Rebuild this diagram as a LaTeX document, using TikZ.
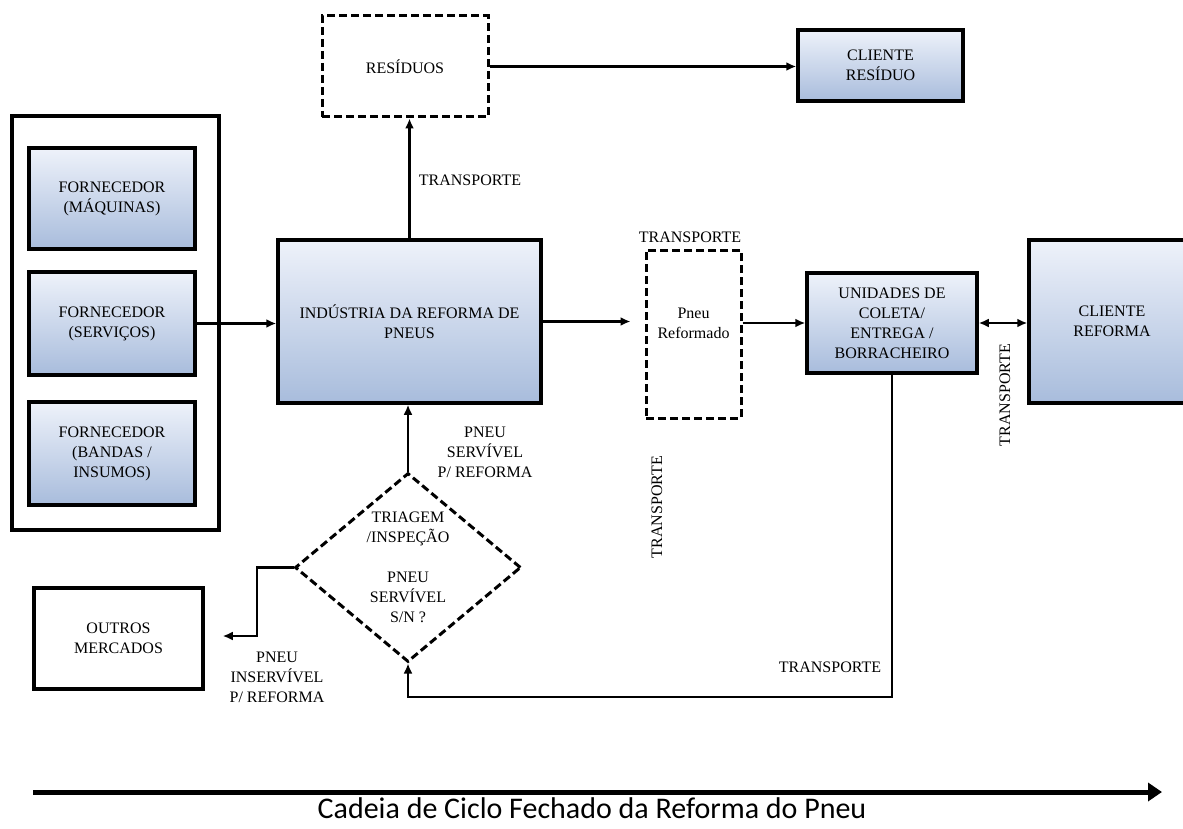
\documentclass[tikz,border=0pt]{standalone}
\usepackage{fontspec}
\setmainfont{Liberation Serif}
\newfontfamily\legenda{Carlito}
\usepackage{tikz}
\usetikzlibrary{arrows.meta,shapes.geometric}
\definecolor{azulclaro}{RGB}{238, 242, 250}
\definecolor{azulescuro}{RGB}{168, 188, 220}

\begin{document}
\begin{tikzpicture}[x=1pt, y=-1pt, font=\rmfamily\fontsize{16}{20}\selectfont,
	caixa/.style={draw, line width=3.5pt, align=center, inner sep=0pt},
	azul/.style={caixa, top color=azulclaro, bottom color=azulescuro},
	tracejada/.style={caixa, line width=3pt, dash pattern=on 8pt off 4pt},
	losango/.style={tracejada, diamond, aspect=1.2},
	rotulo/.style={align=center, inner sep=1pt},
	linha/.style={line width=2.5pt},
	seta/.style={linha, -{Latex[length=10pt,width=9pt]}}]
	\clip (0,0) rectangle (1183,829);
	\node[caixa, minimum width=207pt, minimum height=414pt] (fornecedores) at (115.5,323) {};
	\node[azul, minimum width=166pt, minimum height=101pt] (maquinas) at (112,198.5) {FORNECEDOR\\(MÁQUINAS)};
	\node[azul, minimum width=166pt, minimum height=103pt] (servicos) at (112,323.5) {FORNECEDOR\\(SERVIÇOS)};
	\node[azul, minimum width=166pt, minimum height=103pt] (bandas) at (112,453.5) {FORNECEDOR\\(BANDAS /\\INSUMOS)};
	\node[azul, minimum width=263pt, minimum height=163pt] (industria) at (409.5,321.5) {INDÚSTRIA DA REFORMA DE\\PNEUS};
	\node[tracejada, minimum width=166pt, minimum height=101pt] (residuos) at (405,66.5) {RESÍDUOS};
	\node[azul, minimum width=165pt, minimum height=71pt] (clienteresiduo) at (880.5,65.5) {CLIENTE\\RESÍDUO};
	\node[tracejada, minimum width=95pt, minimum height=168pt,
		label={[rotulo, yshift=11pt]center:{Pneu\\Reformado}}] (pneuref) at (693.5,334) {};
	\node[azul, minimum width=170pt, minimum height=100pt] (unidades) at (892,323) {UNIDADES DE\\COLETA/\\ENTREGA /\\BORRACHEIRO};
	\node[azul, minimum width=166pt, minimum height=163pt] (clientereforma) at (1112,321.5) {CLIENTE\\REFORMA};
	\node[losango, minimum width=226pt, minimum height=189pt,
		label={[rotulo]center:{TRIAGEM\\/INSPEÇÃO\\[20pt]PNEU\\SERVÍVEL\\S/N ?}}] (triagem) at (408,567.5) {};
	\node[caixa, minimum width=169pt, minimum height=101pt] (outros) at (118.5,638.5) {OUTROS\\MERCADOS};

	\coordinate (retorno) at (892,697);
	\coordinate (desvio) at (257,636);

	\draw[seta] (servicos.east) -- (servicos.east -| industria.west);
	\draw[seta] (industria.north) -- (industria.north |- residuos.south);
	\draw[seta] (residuos.east) -- (residuos.east -| clienteresiduo.west);
	\draw[seta, shorten >=14pt] (industria.east) -- (industria.east -| pneuref.west);
	\draw[seta] (pneuref.east |- unidades.west) -- (unidades.west);
	\draw[linha, {Latex[length=10pt,width=9pt]}-{Latex[length=10pt,width=9pt]}] (unidades.east) -- (unidades.east -| clientereforma.west);
	\draw[seta] (unidades.south) -- (retorno) -| (triagem.south);
	\draw[seta] (triagem.north) -- (triagem.north |- industria.south);
	\draw[seta, shorten >=18pt] (triagem.west) -| (desvio) -- (desvio -| outros.east);

	\node[rotulo] (t1) at (470,180) {TRANSPORTE};
	\node[rotulo] (t2) at (690,237) {TRANSPORTE};
	\node[rotulo] (t3) at (657,507) [rotate=90] {TRANSPORTE};
	\node[rotulo] (t4) at (1005,395) [rotate=90] {TRANSPORTE};
	\node[rotulo] (t5) at (830,667) {TRANSPORTE};
	\node[rotulo] (servivel) at (485,452) {PNEU\\SERVÍVEL\\P/ REFORMA};
	\node[rotulo] (inservivel) at (277,677) {PNEU\\INSERVÍVEL\\P/ REFORMA};

	\coordinate (inicio) at (33,792);
	\coordinate (fim) at (1162,792);
	\draw[line width=5pt, -{Triangle[length=14pt,width=18pt]}] (inicio) -- (fim);
	\node[font=\legenda\fontsize{30}{36}\selectfont] (cadeia) at (592,808) {Cadeia de Ciclo Fechado da Reforma do Pneu};
\end{tikzpicture}
\end{document}
